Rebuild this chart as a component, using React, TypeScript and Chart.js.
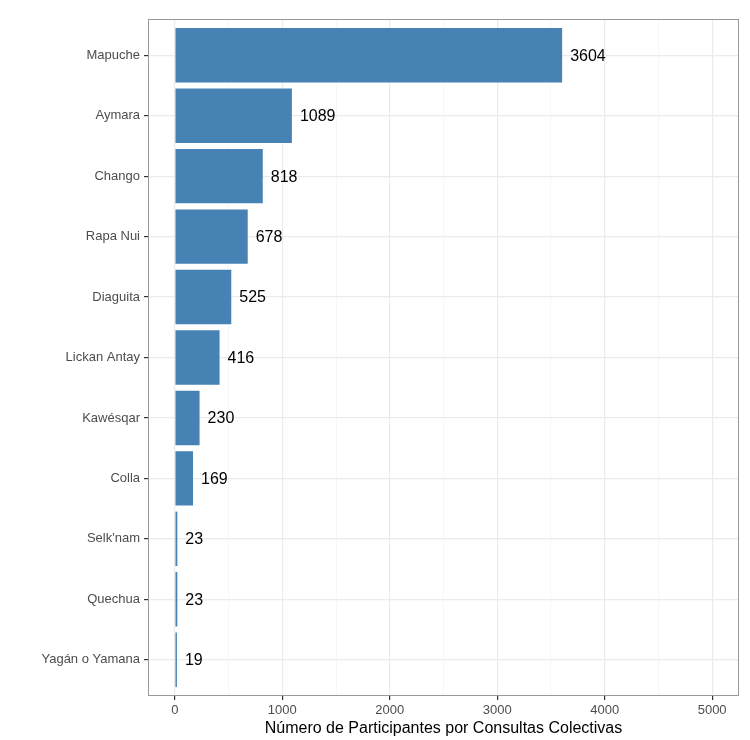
import { useEffect, useRef } from "react"
import { Chart, registerables, type Plugin } from "chart.js"

Chart.register(...registerables)

// Participants per collective consultation, by people
const pueblos = [
  "Mapuche",
  "Aymara",
  "Chango",
  "Rapa Nui",
  "Diaguita",
  "Lickan Antay",
  "Kawésqar",
  "Colla",
  "Selk'nam",
  "Quechua",
  "Yagán o Yamana",
]
const participantes = [3604, 1089, 818, 678, 525, 416, 230, 169, 23, 23, 19]
const xTicks = [0, 500, 1000, 1500, 2000, 2500, 3000, 3500, 4000, 4500, 5000]

const FONT = "'Liberation Sans', Arial, sans-serif"

// full panel border like theme_bw
const panelBorder: Plugin<"bar"> = {
  id: "panelBorder",
  afterDraw(chart) {
    const { ctx, chartArea } = chart
    ctx.save()
    ctx.strokeStyle = "#999999"
    ctx.lineWidth = 1
    ctx.strokeRect(chartArea.left + 0.5, chartArea.top + 0.5, chartArea.width - 1, chartArea.height - 1)
    ctx.restore()
  },
}

// value labels at the end of each bar
const valueLabels: Plugin<"bar"> = {
  id: "valueLabels",
  afterDatasetsDraw(chart) {
    const { ctx } = chart
    const meta = chart.getDatasetMeta(0)
    ctx.save()
    ctx.font = `16px ${FONT}`
    ctx.fillStyle = "#000000"
    ctx.textAlign = "left"
    ctx.textBaseline = "middle"
    meta.data.forEach((bar, i) => {
      const { x, y } = bar.getProps(["x", "y"], true)
      ctx.fillText(String(participantes[i]), x + 8, y + 1)
    })
    ctx.restore()
  },
}

export default function App() {
  const canvasRef = useRef<HTMLCanvasElement>(null)
  const chartRef = useRef<Chart | null>(null)

  useEffect(() => {
    document.body.style.margin = "0"
    if (!canvasRef.current) return
    if (chartRef.current) chartRef.current.destroy()

    chartRef.current = new Chart(canvasRef.current, {
      type: "bar",
      data: {
        datasets: [
          {
            data: participantes.map((v, i) => ({ x: v, y: i })),
            backgroundColor: "#4682B4",
            borderWidth: 0,
            barPercentage: 0.9,
            categoryPercentage: 1,
          },
        ],
      },
      options: {
        indexAxis: "y",
        animation: false,
        responsive: true,
        maintainAspectRatio: false,
        layout: { padding: { top: 19, right: 11, left: 0, bottom: 0 } },
        plugins: {
          legend: { display: false },
          tooltip: { enabled: false },
        },
        scales: {
          x: {
            type: "linear",
            min: -250,
            max: 5250,
            afterBuildTicks: (axis) => {
              axis.ticks = xTicks.map((v) => ({ value: v }))
            },
            afterFit: (axis) => {
              axis.height = 44
            },
            border: { display: false },
            grid: {
              color: (c) => (c.tick && c.tick.value % 1000 === 0 ? "#ebebeb" : "#f3f3f3"),
              lineWidth: (c) => (c.tick && c.tick.value % 1000 === 0 ? 1.2 : 0.7),
              tickColor: (c) => (c.tick && c.tick.value % 1000 === 0 ? "#333333" : "rgba(0,0,0,0)"),
              tickLength: 4,
              drawTicks: true,
            },
            ticks: {
              autoSkip: false,
              maxRotation: 0,
              padding: 3,
              color: "#4d4d4d",
              font: { family: FONT, size: 13 },
              callback: (value) => (Number(value) % 1000 === 0 ? String(value) : ""),
            },
            title: {
              display: true,
              text: "Número de Participantes por Consultas Colectivas",
              color: "#000000",
              font: { family: FONT, size: 16 },
              padding: { top: 0, bottom: 2 },
            },
          },
          y: {
            type: "linear",
            reverse: true,
            offset: false,
            min: -0.6,
            max: pueblos.length - 0.4,
            afterBuildTicks: (axis) => {
              axis.ticks = pueblos.map((_, i) => ({ value: i }))
            },
            afterFit: (axis) => {
              axis.width = 148
            },
            border: { display: false },
            grid: {
              offset: false,
              color: "#ebebeb",
              lineWidth: 1.2,
              tickColor: "#333333",
              tickLength: 4,
            },
            ticks: {
              autoSkip: false,
              padding: 4,
              color: "#4d4d4d",
              font: { family: FONT, size: 13 },
              callback: (_value, index) => pueblos[index],
            },
          },
        },
      },
      plugins: [panelBorder, valueLabels],
    })

    return () => {
      if (chartRef.current) {
        chartRef.current.destroy()
        chartRef.current = null
      }
    }
  }, [])

  return (
    <div style={{ width: 750, height: 740, position: "relative" }}>
      <canvas ref={canvasRef}></canvas>
    </div>
  )
}
